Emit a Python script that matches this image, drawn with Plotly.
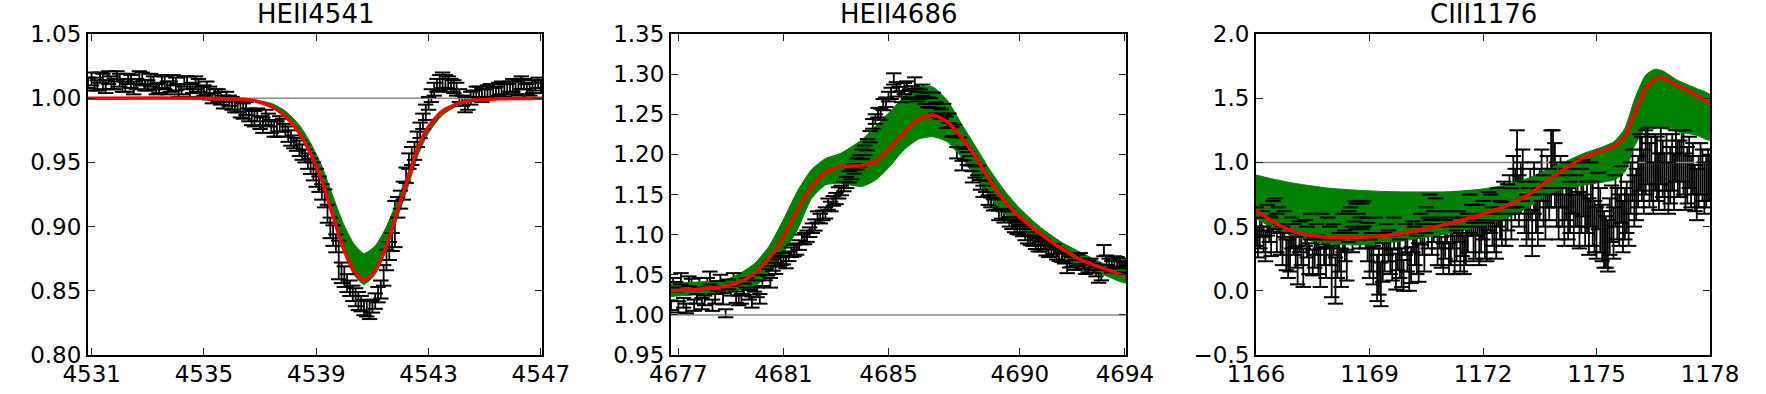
import plotly.graph_objects as go

# ---------------- HEII4541 ----------------
he4541_wave = [4530.87, 4531.0, 4531.2, 4531.4, 4531.6, 4531.8, 4532.0, 4532.2, 4532.4, 4532.6,
               4532.8, 4533.0, 4533.2, 4533.4, 4533.6, 4533.8, 4534.0, 4534.2, 4534.4, 4534.6,
               4534.8, 4535.0, 4535.2, 4535.4, 4535.6, 4535.8, 4536.0, 4536.2, 4536.4, 4536.6,
               4536.8, 4537.0, 4537.2, 4537.4, 4537.6, 4537.8, 4538.0, 4538.2, 4538.4, 4538.6,
               4538.8, 4539.0, 4539.2, 4539.4, 4539.6, 4539.8, 4540.0, 4540.2, 4540.4, 4540.6,
               4540.8, 4541.0, 4541.2, 4541.4, 4541.6, 4541.8, 4542.0, 4542.2, 4542.4, 4542.6,
               4542.8, 4543.0, 4543.2, 4543.4, 4543.6, 4543.8, 4544.0, 4544.2, 4544.4, 4544.6,
               4544.8, 4545.0, 4545.2, 4545.4, 4545.6, 4545.8, 4546.0, 4546.2, 4546.4, 4546.6,
               4546.8, 4547.0, 4547.04]
he4541_flux = [1.012, 1.015, 1.010, 1.013, 1.016, 1.011, 1.014, 1.009, 1.013, 1.011,
               1.015, 1.010, 1.012, 1.008, 1.012, 1.009, 1.011, 1.007, 1.012, 1.008,
               1.010, 1.006, 1.004, 1.003, 1.000, 1.001, 0.996, 0.993, 0.990, 0.987,
               0.984, 0.981, 0.985, 0.978, 0.976, 0.979, 0.972, 0.966, 0.961, 0.955,
               0.947, 0.938, 0.927, 0.910, 0.893, 0.874, 0.861, 0.852, 0.845, 0.840,
               0.836, 0.838, 0.847, 0.862, 0.881, 0.902, 0.921, 0.940, 0.955, 0.968,
               0.982, 0.996, 1.007, 1.012, 1.013, 1.010, 1.007, 0.998, 0.996, 1.002,
               1.004, 1.003, 1.006, 1.005, 1.008, 1.007, 1.010, 1.008, 1.011, 1.007,
               1.010, 1.009, 1.008]
he4541_err = [0.004, 0.005, 0.004, 0.006, 0.005, 0.004, 0.005, 0.004, 0.005, 0.004,
              0.005, 0.004, 0.005, 0.004, 0.005, 0.004, 0.005, 0.004, 0.005, 0.004,
              0.005, 0.004, 0.005, 0.004, 0.005, 0.004, 0.005, 0.004, 0.006, 0.005,
              0.006, 0.005, 0.006, 0.005, 0.006, 0.005, 0.006, 0.005, 0.006, 0.005,
              0.006, 0.007, 0.006, 0.007, 0.008, 0.015, 0.008, 0.006, 0.007, 0.006,
              0.006, 0.005, 0.006, 0.008, 0.007, 0.018, 0.007, 0.006, 0.007, 0.006,
              0.006, 0.005, 0.005, 0.006, 0.005, 0.005, 0.005, 0.004, 0.005, 0.004,
              0.005, 0.004, 0.005, 0.004, 0.005, 0.004, 0.005, 0.006, 0.004, 0.005,
              0.004, 0.005, 0.004]
# interleaved samples between the ones above
he4541_wave_b = [4531.1, 4531.3, 4531.5, 4531.7, 4531.9, 4532.1, 4532.3, 4532.5, 4532.7, 4532.9,
                 4533.1, 4533.3, 4533.5, 4533.7, 4533.9, 4534.1, 4534.3, 4534.5, 4534.7, 4534.9,
                 4535.1, 4535.3, 4535.5, 4535.7, 4535.9, 4536.1, 4536.3, 4536.5, 4536.7, 4536.9,
                 4537.1, 4537.3, 4537.5, 4537.7, 4537.9, 4538.1, 4538.3, 4538.5, 4538.7, 4538.9,
                 4539.1, 4539.3, 4539.5, 4539.7, 4539.9, 4540.1, 4540.3, 4540.5, 4540.7, 4540.9,
                 4541.1, 4541.3, 4541.5, 4541.7, 4541.9, 4542.1, 4542.3, 4542.5, 4542.7, 4542.9,
                 4543.1, 4543.3, 4543.5, 4543.7, 4543.9, 4544.1, 4544.3, 4544.5, 4544.7, 4544.9,
                 4545.1, 4545.3, 4545.5, 4545.7, 4545.9, 4546.1, 4546.3, 4546.5, 4546.7, 4546.9]
he4541_flux_b = [1.011, 1.016, 1.009, 1.012, 1.017, 1.010, 1.015, 1.008, 1.016, 1.010,
                 1.014, 1.007, 1.013, 1.008, 1.014, 1.006, 1.013, 1.006, 1.012, 1.005,
                 1.008, 1.000, 1.002, 0.997, 0.998, 0.994, 0.991, 0.992, 0.985, 0.987,
                 0.979, 0.983, 0.976, 0.980, 0.975, 0.969, 0.964, 0.958, 0.951, 0.943,
                 0.933, 0.922, 0.899, 0.887, 0.864, 0.856, 0.848, 0.842, 0.837, 0.835,
                 0.842, 0.851, 0.874, 0.888, 0.915, 0.928, 0.951, 0.959, 0.975, 0.989,
                 1.002, 1.010, 1.014, 1.012, 1.009, 1.002, 0.995, 1.000, 1.005, 1.002,
                 1.005, 1.004, 1.007, 1.006, 1.009, 1.008, 1.012, 1.007, 1.009, 1.012]
he4541_err_b = [0.005, 0.004, 0.005, 0.005, 0.004, 0.005, 0.004, 0.005, 0.005, 0.004,
                0.005, 0.004, 0.005, 0.005, 0.004, 0.005, 0.004, 0.005, 0.005, 0.004,
                0.005, 0.004, 0.005, 0.005, 0.004, 0.005, 0.006, 0.005, 0.006, 0.005,
                0.006, 0.005, 0.006, 0.006, 0.005, 0.006, 0.005, 0.006, 0.006, 0.007,
                0.006, 0.007, 0.008, 0.007, 0.008, 0.007, 0.006, 0.007, 0.006, 0.007,
                0.006, 0.007, 0.008, 0.007, 0.008, 0.007, 0.006, 0.007, 0.006, 0.006,
                0.005, 0.005, 0.006, 0.005, 0.005, 0.005, 0.006, 0.005, 0.004, 0.005,
                0.005, 0.004, 0.005, 0.005, 0.004, 0.005, 0.005, 0.004, 0.005, 0.004]
he4541_model_wave = [4530.87, 4536.65, 4537.4, 4537.9, 4538.4, 4538.8, 4539.2, 4539.57, 4539.95,
                     4540.33, 4540.7, 4541.1, 4541.48, 4541.86, 4542.25, 4542.63, 4543.0, 4543.5,
                     4544.27, 4545.5, 4547.04]
he4541_model = [1.000, 0.9987, 0.9935, 0.986, 0.973, 0.957, 0.936, 0.910, 0.884,
                0.866, 0.858, 0.866, 0.884, 0.910, 0.936, 0.962, 0.978, 0.990,
                0.9975, 0.9995, 1.000]
he4541_upper = [1.000, 0.999, 0.996, 0.990, 0.979, 0.965, 0.947, 0.925, 0.903,
                0.887, 0.879, 0.885, 0.899, 0.919, 0.941, 0.964, 0.979, 0.991,
                0.998, 0.9997, 1.000]
he4541_lower = [1.000, 0.9984, 0.9928, 0.985, 0.971, 0.955, 0.934, 0.908, 0.882,
                0.863, 0.855, 0.863, 0.881, 0.905, 0.930, 0.956, 0.973, 0.987,
                0.9965, 0.9992, 1.000]

# ---------------- HEII4686 ----------------
he4686_wave = [4676.72, 4676.8, 4677.0, 4677.2, 4677.4, 4677.6, 4677.8, 4678.0, 4678.2, 4678.4,
               4678.6, 4678.8, 4679.0, 4679.2, 4679.4, 4679.6, 4679.8, 4680.0, 4680.2, 4680.4,
               4680.6, 4680.8, 4681.0, 4681.2, 4681.4, 4681.6, 4681.8, 4682.0, 4682.2, 4682.4,
               4682.6, 4682.8, 4683.0, 4683.2, 4683.4, 4683.6, 4683.8, 4684.0, 4684.2, 4684.4,
               4684.6, 4684.8, 4685.0, 4685.2, 4685.4, 4685.6, 4685.8, 4686.0, 4686.2, 4686.4,
               4686.6, 4686.8, 4687.0, 4687.2, 4687.4, 4687.6, 4687.8, 4688.0, 4688.2, 4688.4,
               4688.6, 4688.8, 4689.0, 4689.2, 4689.4, 4689.6, 4689.8, 4690.0, 4690.2, 4690.4,
               4690.6, 4690.8, 4691.0, 4691.2, 4691.4, 4691.6, 4691.8, 4692.0, 4692.2, 4692.4,
               4692.6, 4692.8, 4693.0, 4693.2, 4693.4, 4693.6, 4693.8, 4694.0, 4694.04]
he4686_flux = [1.012, 1.040, 1.010, 1.015, 1.042, 1.012, 1.040, 1.018, 1.046, 1.020,
               1.043, 1.002, 1.030, 1.022, 1.020, 1.040, 1.016, 1.028, 1.043, 1.055,
               1.062, 1.066, 1.070, 1.073, 1.080, 1.087, 1.095, 1.103, 1.112, 1.120,
               1.127, 1.135, 1.145, 1.155, 1.165, 1.175, 1.188, 1.200, 1.212, 1.238,
               1.252, 1.262, 1.272, 1.294, 1.278, 1.282, 1.275, 1.289, 1.275, 1.270,
               1.264, 1.258, 1.250, 1.240, 1.228, 1.202, 1.186, 1.195, 1.172, 1.180,
               1.154, 1.143, 1.137, 1.124, 1.122, 1.116, 1.110, 1.106, 1.100, 1.093,
               1.089, 1.085, 1.081, 1.079, 1.076, 1.072, 1.060, 1.066, 1.068, 1.064,
               1.060, 1.058, 1.048, 1.080, 1.064, 1.066, 1.064, 1.058, 1.056]
he4686_err = [0.006, 0.006, 0.007, 0.006, 0.006, 0.007, 0.006, 0.006, 0.008, 0.006,
              0.007, 0.005, 0.006, 0.007, 0.006, 0.006, 0.007, 0.006, 0.007, 0.006,
              0.007, 0.006, 0.007, 0.006, 0.007, 0.006, 0.007, 0.006, 0.007, 0.006,
              0.007, 0.006, 0.007, 0.006, 0.007, 0.006, 0.007, 0.006, 0.007, 0.006,
              0.006, 0.007, 0.006, 0.007, 0.006, 0.007, 0.006, 0.007, 0.006, 0.007,
              0.006, 0.007, 0.006, 0.007, 0.006, 0.007, 0.006, 0.008, 0.007, 0.006,
              0.007, 0.006, 0.007, 0.006, 0.007, 0.006, 0.007, 0.006, 0.007, 0.006,
              0.007, 0.006, 0.007, 0.006, 0.007, 0.006, 0.008, 0.006, 0.007, 0.006,
              0.007, 0.006, 0.008, 0.007, 0.006, 0.007, 0.006, 0.007, 0.006]
he4686_wave_b = [4676.9, 4677.1, 4677.3, 4677.5, 4677.7, 4677.9, 4678.1, 4678.3, 4678.5, 4678.7,
                 4678.9, 4679.1, 4679.3, 4679.5, 4679.7, 4679.9, 4680.1, 4680.3, 4680.5, 4680.7,
                 4680.9, 4681.1, 4681.3, 4681.5, 4681.7, 4681.9, 4682.1, 4682.3, 4682.5, 4682.7,
                 4682.9, 4683.1, 4683.3, 4683.5, 4683.7, 4683.9, 4684.1, 4684.3, 4684.5, 4684.7,
                 4684.9, 4685.1, 4685.3, 4685.5, 4685.7, 4685.9, 4686.1, 4686.3, 4686.5, 4686.7,
                 4686.9, 4687.1, 4687.3, 4687.5, 4687.7, 4687.9, 4688.1, 4688.3, 4688.5, 4688.7,
                 4688.9, 4689.1, 4689.3, 4689.5, 4689.7, 4689.9, 4690.1, 4690.3, 4690.5, 4690.7,
                 4690.9, 4691.1, 4691.3, 4691.5, 4691.7, 4691.9, 4692.1, 4692.3, 4692.5, 4692.7,
                 4692.9, 4693.1, 4693.3, 4693.5, 4693.7, 4693.9]
he4686_flux_b = [1.035, 1.045, 1.008, 1.038, 1.020, 1.014, 1.040, 1.012, 1.036, 1.020,
                 1.038, 1.045, 1.018, 1.032, 1.025, 1.036, 1.020, 1.050, 1.040, 1.058,
                 1.068, 1.065, 1.078, 1.082, 1.094, 1.098, 1.108, 1.122, 1.124, 1.138,
                 1.142, 1.152, 1.160, 1.172, 1.182, 1.192, 1.205, 1.222, 1.244, 1.250,
                 1.265, 1.276, 1.284, 1.272, 1.285, 1.278, 1.272, 1.280, 1.265, 1.270,
                 1.252, 1.256, 1.245, 1.230, 1.215, 1.200, 1.192, 1.178, 1.162, 1.160,
                 1.140, 1.138, 1.126, 1.125, 1.113, 1.108, 1.104, 1.096, 1.092, 1.086,
                 1.088, 1.079, 1.082, 1.074, 1.070, 1.066, 1.062, 1.070, 1.057, 1.063,
                 1.054, 1.050, 1.068, 1.060, 1.066, 1.060]
he4686_err_b = [0.006, 0.007, 0.006, 0.007, 0.006, 0.007, 0.006, 0.007, 0.006, 0.007,
                0.006, 0.007, 0.006, 0.007, 0.006, 0.007, 0.006, 0.007, 0.006, 0.007,
                0.006, 0.007, 0.006, 0.007, 0.006, 0.007, 0.006, 0.007, 0.006, 0.007,
                0.006, 0.007, 0.006, 0.007, 0.006, 0.007, 0.006, 0.007, 0.006, 0.007,
                0.006, 0.007, 0.006, 0.007, 0.006, 0.007, 0.006, 0.007, 0.006, 0.007,
                0.006, 0.007, 0.006, 0.007, 0.006, 0.007, 0.006, 0.007, 0.006, 0.007,
                0.006, 0.007, 0.006, 0.007, 0.006, 0.007, 0.006, 0.007, 0.006, 0.007,
                0.006, 0.007, 0.006, 0.007, 0.006, 0.007, 0.006, 0.007, 0.006, 0.007,
                0.006, 0.007, 0.006, 0.007, 0.006, 0.007]
he4686_model_wave = [4676.72, 4677.73, 4678.82, 4679.36, 4679.9, 4680.44, 4680.99, 4681.53,
                     4682.07, 4682.61, 4683.16, 4683.97, 4684.51, 4685.05, 4685.6, 4686.14,
                     4686.68, 4687.22, 4687.76, 4688.31, 4688.85, 4689.39, 4689.93, 4690.75,
                     4691.56, 4692.37, 4693.19, 4694.04]
he4686_model = [1.030, 1.032, 1.036, 1.041, 1.052, 1.070, 1.097, 1.131,
                1.160, 1.178, 1.185, 1.186, 1.191, 1.208, 1.228, 1.244,
                1.249, 1.241, 1.222, 1.197, 1.168, 1.143, 1.124, 1.102,
                1.083, 1.068, 1.058, 1.048]
he4686_upper = [1.039, 1.041, 1.044, 1.052, 1.064, 1.085, 1.118, 1.154,
                1.181, 1.195, 1.201, 1.218, 1.235, 1.253, 1.272, 1.284,
                1.284, 1.268, 1.239, 1.210, 1.181, 1.156, 1.135, 1.110,
                1.091, 1.077, 1.064, 1.056]
he4686_lower = [1.023, 1.025, 1.027, 1.031, 1.035, 1.052, 1.077, 1.106,
                1.145, 1.162, 1.164, 1.160, 1.168, 1.185, 1.206, 1.219,
                1.222, 1.216, 1.197, 1.172, 1.147, 1.127, 1.110, 1.091,
                1.075, 1.060, 1.050, 1.040]

# ---------------- CIII1176 ----------------
c1176_wave = [1166.0, 1166.1, 1166.2, 1166.3, 1166.4, 1166.5, 1166.6, 1166.7, 1166.8, 1166.9,
              1167.0, 1167.1, 1167.2, 1167.3, 1167.4, 1167.5, 1167.6, 1167.7, 1167.8, 1167.9,
              1168.0, 1168.1, 1168.2, 1168.3, 1168.4, 1168.5, 1168.6, 1168.7, 1168.8, 1168.9,
              1169.0, 1169.1, 1169.2, 1169.3, 1169.4, 1169.5, 1169.6, 1169.7, 1169.8, 1169.9,
              1170.0, 1170.1, 1170.2, 1170.3, 1170.4, 1170.5, 1170.6, 1170.7, 1170.8, 1170.9,
              1171.0, 1171.1, 1171.2, 1171.3, 1171.4, 1171.5, 1171.6, 1171.7, 1171.8, 1171.9,
              1172.0, 1172.1, 1172.2, 1172.3, 1172.4, 1172.5, 1172.6, 1172.7, 1172.8, 1172.9,
              1173.0, 1173.1, 1173.2, 1173.3, 1173.4, 1173.5, 1173.6, 1173.7, 1173.8, 1173.9,
              1174.0, 1174.1, 1174.2, 1174.3, 1174.4, 1174.5, 1174.6, 1174.7, 1174.8, 1174.9,
              1175.0, 1175.1, 1175.2, 1175.3, 1175.4, 1175.5, 1175.6, 1175.7, 1175.8, 1175.9,
              1176.0, 1176.1, 1176.2, 1176.3, 1176.4, 1176.5, 1176.6, 1176.7, 1176.8, 1176.9,
              1177.0, 1177.1, 1177.2, 1177.3, 1177.4, 1177.5, 1177.6, 1177.7, 1177.8, 1177.9,
              1178.0]
c1176_flux = [0.50, 0.45, 0.40, 0.55, 0.42, 0.60, 0.55, 0.35, 0.28, 0.30,
              0.40, 0.20, 0.32, 0.45, 0.25, 0.22, 0.40, 0.18, 0.30, 0.45,
              0.15, 0.08, 0.30, 0.45, 0.20, 0.55, 0.62, 0.50, 0.58, 0.45,
              0.25, 0.20, 0.10, 0.05, 0.30, 0.35, 0.20, 0.15, 0.25, 0.12,
              0.30, 0.20, 0.35, 0.22, 0.40, 0.55, 0.65, 0.50, 0.35, 0.30,
              0.40, 0.25, 0.45, 0.35, 0.30, 0.28, 0.45, 0.55, 0.40, 0.35,
              0.55, 0.38, 0.60, 0.45, 0.65, 0.52, 0.50, 0.75, 0.85, 0.95,
              0.80, 0.65, 0.60, 0.45, 0.65, 0.75, 0.70, 0.85, 0.95, 0.90,
              0.60, 0.70, 0.75, 0.65, 0.55, 0.75, 0.70, 0.55, 0.50, 0.60,
              0.45, 0.55, 0.40, 0.35, 0.60, 0.70, 0.55, 0.50, 0.65, 0.80,
              0.70, 0.85, 0.95, 1.00, 0.90, 0.80, 0.95, 1.05, 0.85, 0.80,
              1.00, 1.05, 0.95, 1.00, 0.90, 0.85, 0.80, 0.85, 0.90, 0.85,
              0.88]
c1176_err = [0.15, 0.12, 0.10, 0.12, 0.15, 0.12, 0.10, 0.15, 0.12, 0.15,
             0.12, 0.15, 0.12, 0.10, 0.12, 0.10, 0.12, 0.15, 0.10, 0.12,
             0.20, 0.18, 0.15, 0.15, 0.12, 0.10, 0.08, 0.10, 0.10, 0.12,
             0.15, 0.15, 0.18, 0.17, 0.15, 0.12, 0.12, 0.14, 0.15, 0.12,
             0.15, 0.14, 0.15, 0.15, 0.12, 0.10, 0.10, 0.12, 0.15, 0.12,
             0.15, 0.12, 0.12, 0.12, 0.15, 0.15, 0.15, 0.12, 0.15, 0.15,
             0.15, 0.15, 0.15, 0.15, 0.15, 0.17, 0.15, 0.15, 0.20, 0.30,
             0.20, 0.20, 0.20, 0.18, 0.20, 0.20, 0.20, 0.20, 0.30, 0.25,
             0.20, 0.20, 0.20, 0.20, 0.20, 0.25, 0.25, 0.20, 0.22, 0.25,
             0.20, 0.25, 0.22, 0.20, 0.22, 0.20, 0.20, 0.20, 0.20, 0.20,
             0.20, 0.20, 0.25, 0.25, 0.25, 0.20, 0.25, 0.22, 0.22, 0.20,
             0.22, 0.20, 0.22, 0.25, 0.22, 0.20, 0.18, 0.20, 0.20, 0.20,
             0.18]
c1176_wave_b = [1166.05, 1166.15, 1166.25, 1166.35, 1166.45, 1166.55, 1166.65, 1166.75, 1166.85, 1166.95,
                1167.05, 1167.15, 1167.25, 1167.35, 1167.45, 1167.55, 1167.65, 1167.75, 1167.85, 1167.95,
                1168.05, 1168.15, 1168.25, 1168.35, 1168.45, 1168.55, 1168.65, 1168.75, 1168.85, 1168.95,
                1169.05, 1169.15, 1169.25, 1169.35, 1169.45, 1169.55, 1169.65, 1169.75, 1169.85, 1169.95,
                1170.05, 1170.15, 1170.25, 1170.35, 1170.45, 1170.55, 1170.65, 1170.75, 1170.85, 1170.95,
                1171.05, 1171.15, 1171.25, 1171.35, 1171.45, 1171.55, 1171.65, 1171.75, 1171.85, 1171.95,
                1172.05, 1172.15, 1172.25, 1172.35, 1172.45, 1172.55, 1172.65, 1172.75, 1172.85, 1172.95,
                1173.05, 1173.15, 1173.25, 1173.35, 1173.45, 1173.55, 1173.65, 1173.75, 1173.85, 1173.95,
                1174.05, 1174.15, 1174.25, 1174.35, 1174.45, 1174.55, 1174.65, 1174.75, 1174.85, 1174.95,
                1175.05, 1175.15, 1175.25, 1175.35, 1175.45, 1175.55, 1175.65, 1175.75, 1175.85, 1175.95,
                1176.05, 1176.15, 1176.25, 1176.35, 1176.45, 1176.55, 1176.65, 1176.75, 1176.85, 1176.95,
                1177.05, 1177.15, 1177.25, 1177.35, 1177.45, 1177.55, 1177.65, 1177.75, 1177.85, 1177.95]
c1176_flux_b = [0.38, 0.52, 0.35, 0.48, 0.58, 0.45, 0.40, 0.52, 0.25, 0.45,
                0.30, 0.42, 0.18, 0.38, 0.50, 0.30, 0.28, 0.48, 0.22, 0.35,
                0.40, 0.25, 0.18, 0.35, 0.50, 0.40, 0.58, 0.45, 0.60, 0.38,
                0.30, 0.45, 0.15, 0.22, 0.40, 0.28, 0.45, 0.30, 0.18, 0.40,
                0.15, 0.42, 0.28, 0.48, 0.30, 0.45, 0.40, 0.62, 0.45, 0.25,
                0.50, 0.35, 0.28, 0.50, 0.42, 0.35, 0.60, 0.38, 0.55, 0.45,
                0.40, 0.62, 0.50, 0.40, 0.55, 0.70, 0.65, 0.60, 0.75, 0.70,
                0.90, 0.55, 0.75, 0.80, 0.55, 0.90, 0.60, 0.75, 1.00, 0.75,
                0.85, 0.55, 0.60, 0.80, 0.70, 0.55, 0.80, 0.65, 0.75, 0.50,
                0.70, 0.45, 0.38, 0.50, 0.45, 0.60, 0.75, 0.60, 0.55, 0.90,
                0.75, 1.00, 0.85, 1.05, 0.95, 1.00, 0.85, 0.95, 1.00, 0.90,
                0.85, 0.95, 1.05, 0.85, 1.00, 0.95, 0.75, 0.95, 0.80, 0.90]
c1176_err_b = [0.12, 0.10, 0.12, 0.10, 0.12, 0.15, 0.12, 0.10, 0.15, 0.12,
               0.12, 0.12, 0.15, 0.12, 0.10, 0.12, 0.15, 0.12, 0.12, 0.15,
               0.12, 0.15, 0.15, 0.12, 0.12, 0.10, 0.10, 0.12, 0.10, 0.15,
               0.15, 0.12, 0.18, 0.15, 0.12, 0.15, 0.12, 0.14, 0.15, 0.12,
               0.15, 0.12, 0.15, 0.12, 0.15, 0.12, 0.12, 0.10, 0.12, 0.12,
               0.12, 0.15, 0.15, 0.12, 0.15, 0.15, 0.15, 0.15, 0.12, 0.15,
               0.15, 0.15, 0.15, 0.15, 0.15, 0.15, 0.18, 0.20, 0.20, 0.20,
               0.20, 0.20, 0.20, 0.20, 0.20, 0.20, 0.20, 0.20, 0.25, 0.25,
               0.20, 0.20, 0.20, 0.20, 0.20, 0.22, 0.22, 0.20, 0.25, 0.20,
               0.22, 0.22, 0.20, 0.22, 0.20, 0.20, 0.22, 0.20, 0.20, 0.20,
               0.20, 0.22, 0.25, 0.22, 0.25, 0.22, 0.22, 0.22, 0.22, 0.22,
               0.22, 0.22, 0.20, 0.22, 0.20, 0.20, 0.20, 0.20, 0.20, 0.20]
c1176_model_wave = [1166.0, 1166.38, 1166.78, 1167.27, 1167.96, 1168.75, 1169.54, 1170.33,
                    1171.12, 1171.91, 1172.6, 1173.19, 1173.68, 1174.18, 1174.67, 1175.06,
                    1175.46, 1175.75, 1176.0, 1176.3, 1176.54, 1176.74, 1177.13, 1177.63,
                    1178.0]
c1176_model = [0.629, 0.551, 0.487, 0.440, 0.416, 0.416, 0.435, 0.474,
               0.525, 0.590, 0.660, 0.746, 0.850, 0.954, 1.040, 1.084,
               1.123, 1.200, 1.382, 1.577, 1.647, 1.660, 1.603, 1.525,
               1.460]
c1176_upper = [0.902, 0.875, 0.850, 0.825, 0.798, 0.782, 0.772, 0.770,
               0.772, 0.790, 0.824, 0.876, 0.941, 1.006, 1.071, 1.110,
               1.161, 1.265, 1.486, 1.680, 1.725, 1.714, 1.642, 1.577,
               1.525]
c1176_lower = [0.564, 0.500, 0.448, 0.400, 0.364, 0.357, 0.375, 0.409,
               0.448, 0.500, 0.564, 0.650, 0.746, 0.798, 0.824, 0.842,
               0.863, 0.928, 1.123, 1.265, 1.278, 1.265, 1.239, 1.213,
               1.174]

continuum = 1.0

panels = [
    dict(name="HEII4541",
         wave=he4541_wave + he4541_wave_b, flux=he4541_flux + he4541_flux_b,
         err=he4541_err + he4541_err_b,
         mwave=he4541_model_wave, model=he4541_model, upper=he4541_upper, lower=he4541_lower,
         yrange=[0.80, 1.05], ydtick=0.05, yfmt=".2f", xticks=[4531, 4535, 4539, 4543, 4547]),
    dict(name="HEII4686",
         wave=he4686_wave + he4686_wave_b, flux=he4686_flux + he4686_flux_b,
         err=he4686_err + he4686_err_b,
         mwave=he4686_model_wave, model=he4686_model, upper=he4686_upper, lower=he4686_lower,
         yrange=[0.95, 1.35], ydtick=0.05, yfmt=".2f", xticks=[4677, 4681, 4685, 4690, 4694]),
    dict(name="CIII1176",
         wave=c1176_wave + c1176_wave_b, flux=c1176_flux + c1176_flux_b,
         err=c1176_err + c1176_err_b,
         mwave=c1176_model_wave, model=c1176_model, upper=c1176_upper, lower=c1176_lower,
         yrange=[-0.5, 2.0], ydtick=0.5, yfmt=".1f", xticks=[1166, 1169, 1172, 1175, 1178]),
]

W, H = 1766, 394
x_domains = [(88, 542), (671, 1126), (1256, 1710)]
y_domain = [(H - 355) / H, (H - 34) / H]
font = "DejaVu Sans"

fig = go.Figure()
annotations = []
for i, p in enumerate(panels):
    n = "" if i == 0 else str(i + 1)
    xa, ya = "x" + n, "y" + n
    wave, flux, err = p["wave"], p["flux"], p["err"]

    # vertical error bars (drawn below the band)
    fig.add_trace(go.Scatter(
        x=wave, y=flux, xaxis=xa, yaxis=ya, mode="markers",
        marker=dict(size=2, color="black", opacity=0),
        error_y=dict(type="data", array=err, width=0, thickness=1.8, color="black"),
        showlegend=False, hoverinfo="skip"))

    # continuum line
    fig.add_trace(go.Scatter(
        x=[min(wave), max(wave)], y=[continuum, continuum], xaxis=xa, yaxis=ya,
        mode="lines", line=dict(color="#888888", width=1.5),
        showlegend=False, hoverinfo="skip"))

    # model spread band
    fig.add_trace(go.Scatter(
        x=p["mwave"] + p["mwave"][::-1], y=p["upper"] + p["lower"][::-1],
        xaxis=xa, yaxis=ya, mode="lines", fill="toself", fillcolor="#008000",
        line=dict(color="#008000", width=1, shape="spline", smoothing=0.6),
        showlegend=False, hoverinfo="skip"))

    # error-bar caps (drawn above the band)
    cap_x = wave + wave
    cap_y = [f + e for f, e in zip(flux, err)] + [f - e for f, e in zip(flux, err)]
    fig.add_trace(go.Scatter(
        x=cap_x, y=cap_y, xaxis=xa, yaxis=ya, mode="markers",
        marker=dict(symbol="line-ew", size=11, line=dict(color="black", width=2)),
        showlegend=False, hoverinfo="skip"))

    # best model
    fig.add_trace(go.Scatter(
        x=p["mwave"], y=p["model"], xaxis=xa, yaxis=ya, mode="lines",
        line=dict(color="#ff0000", width=3.5, shape="spline", smoothing=0.6),
        showlegend=False, hoverinfo="skip"))

    x0, x1 = x_domains[i]
    axis_common = dict(
        showline=True, linecolor="black", linewidth=2, mirror="ticks",
        ticks="inside", ticklen=7, tickwidth=1, tickcolor="#222222",
        showgrid=False, zeroline=False, automargin=False,
        tickfont=dict(family=font, size=23, color="black"),
    )
    fig.update_layout(**{
        "xaxis" + n: dict(axis_common, domain=[x0 / W, x1 / W], anchor=ya,
                          range=[min(wave), max(wave)], tickmode="array",
                          tickvals=p["xticks"], ticktext=[str(t) for t in p["xticks"]],
                          ticklabelstandoff=-3),
        "yaxis" + n: dict(axis_common, domain=y_domain, anchor=xa,
                          range=p["yrange"], dtick=p["ydtick"], tick0=0,
                          tickformat=p["yfmt"]),
    })
    annotations.append(dict(
        text=p["name"], x=(x0 + x1) / 2 / W, y=(H - 14) / H, xref="paper", yref="paper",
        xanchor="center", yanchor="middle", showarrow=False,
        font=dict(family=font, size=26, color="black")))

fig.update_layout(
    width=W, height=H,
    margin=dict(l=0, r=0, t=0, b=0, pad=0, autoexpand=False),
    paper_bgcolor="white", plot_bgcolor="white",
    annotations=annotations,
)

# the page's default body margin would shift the whole figure by 8 px
fig.write_html(
    "out.html",
    config={"displayModeBar": False},
    post_script="document.body.style.margin='0';document.body.style.overflow='hidden';",
)
